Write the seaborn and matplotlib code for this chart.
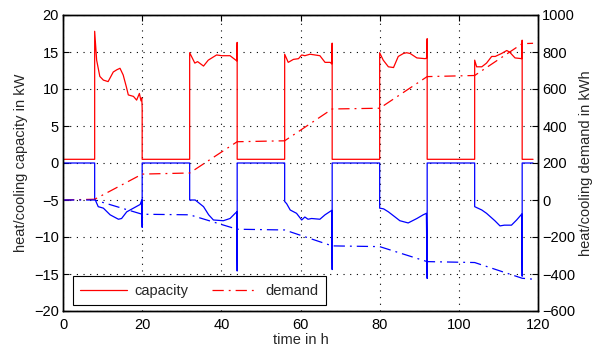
import matplotlib
matplotlib.use("Agg")
import matplotlib.pyplot as plt
from matplotlib.lines import Line2D
import seaborn as sns

# Heating capacity in kW (time in h)
heat_time = [0, 8, 8, 8.5, 9.3, 10.2, 11.4, 12.0, 12.7, 13.6, 14.4, 15.2, 16.0, 16.5, 17.8, 18.6, 19.3, 19.7, 19.9, 20, 20,
             32, 32, 33.3, 34.0, 35.5, 36.7, 38.8, 40.1, 42.2, 43.9, 44, 44,
             56, 56, 56.9, 58.2, 59.5, 60.3, 61.1, 62.4, 64.9, 66.2, 67.5, 67.9, 68, 68,
             80, 80, 80.9, 82.2, 83.5, 84.7, 86.0, 86.8, 87.7, 89.4, 91.5, 91.9, 92, 92,
             104, 104, 104.5, 105.8, 107.0, 108.3, 109.2, 110.8, 112.1, 112.8, 114.2, 115.9, 116, 116, 118.75]
heat_kw = [0.5, 0.5, 17.8, 13.9, 11.7, 11.2, 11.0, 11.6, 12.3, 12.6, 12.8, 11.9, 10.3, 9.2, 9.0, 8.5, 9.4, 8.4, 8.8, 7.4, 0.5,
           0.5, 14.9, 13.5, 13.7, 13.1, 13.9, 14.6, 14.5, 14.5, 13.8, 16.3, 0.5,
           0.5, 14.7, 13.6, 14.0, 14.1, 14.6, 14.5, 14.7, 14.5, 13.6, 13.6, 13.4, 16.2, 0.5,
           0.5, 14.9, 13.9, 13.0, 12.9, 14.4, 14.8, 14.9, 14.8, 14.2, 14.1, 14.2, 16.8, 0.5,
           0.5, 13.9, 13.0, 13.0, 13.5, 14.4, 14.4, 14.8, 15.2, 15.0, 14.2, 14.1, 16.6, 0.5, 0.5]

# Cooling capacity in kW (time in h)
cool_time = [0, 8, 8, 8.9, 10.2, 11.9, 14.0, 14.8, 16.1, 17.8, 19.5, 19.9, 20, 20,
             32, 32, 33.4, 35.5, 36.8, 38.0, 40.5, 42.2, 43.5, 43.9, 44, 44,
             56, 56, 56.5, 57.4, 59.0, 60.3, 61.1, 61.9, 62.8, 64.9, 66.2, 67.9, 68, 68,
             80, 80, 81.0, 82.2, 83.9, 85.1, 87.2, 89.4, 91.0, 91.8, 92, 92,
             104, 104, 105.8, 107.0, 109.1, 110.4, 111.5, 113.3, 114.6, 115.9, 116, 116, 118.75]
cool_kw = [0, 0, -4.8, -5.9, -6.1, -7.0, -7.6, -7.5, -6.6, -6.1, -5.6, -5.0, -8.7, 0,
           0, -5.0, -5.0, -5.9, -7.0, -7.7, -7.8, -7.5, -6.8, -6.6, -14.6, 0,
           0, -5.2, -5.5, -6.35, -6.8, -7.7, -7.3, -7.6, -7.5, -7.6, -7.0, -6.4, -14.4, 0,
           0, -6.1, -6.2, -6.6, -7.3, -7.8, -8.1, -7.5, -7.0, -6.8, -15.6, 0,
           0, -5.9, -6.35, -6.8, -7.8, -8.5, -8.4, -8.4, -7.7, -6.9, -15.3, 0, 0]

# Cumulative demand in kWh
demand_time = [0, 8, 20, 32, 44, 56, 68, 80, 92, 104, 116, 118.75]
heat_demand = [0, 4, 140, 146, 315, 320, 492, 496, 667, 673, 845, 847]
cool_demand = [0, 0, -77, -80, -158, -162, -248, -252, -333, -338, -423, -428]

x_ticks = [0, 20, 40, 60, 80, 100, 120]
left_ticks = [-20, -15, -10, -5, 0, 5, 10, 15, 20]
right_ticks = [-600, -400, -200, 0, 200, 400, 600, 800, 1000]

sns.set_style("white")
plt.rcParams["font.family"] = ["Liberation Sans", "DejaVu Sans"]
plt.rcParams["font.size"] = 10

W, H = 595, 351
fig, ax = plt.subplots(figsize=(W / 100, H / 100), dpi=100)
fig.subplots_adjust(left=63 / W, right=538 / W, bottom=(H - 311) / H, top=(H - 15) / H)
ax2 = ax.twinx()

lw = 0.9
dashdot = (0, (9, 4, 1.5, 4))

sns.lineplot(x=heat_time, y=heat_kw, ax=ax, color="red", linewidth=lw, sort=False, estimator=None)
sns.lineplot(x=cool_time, y=cool_kw, ax=ax, color="blue", linewidth=lw, sort=False, estimator=None)
sns.lineplot(x=demand_time, y=heat_demand, ax=ax2, color="red", linewidth=lw, sort=False, estimator=None,
             linestyle=dashdot)
sns.lineplot(x=demand_time, y=cool_demand, ax=ax2, color="blue", linewidth=lw, sort=False, estimator=None,
             linestyle=dashdot)

ax.set_xlim(0, 120)
ax.set_ylim(-20, 20)
ax2.set_ylim(-600, 1000)
ax.set_xticks(x_ticks)
ax.set_yticks(left_ticks)
ax2.set_yticks(right_ticks)
ax.set_yticklabels([str(v).replace("-", "\u2212") for v in left_ticks])
ax2.set_yticklabels([str(v).replace("-", "\u2212") for v in right_ticks])

ax.grid(True, color="black", linestyle=(0, (1, 5)), linewidth=0.8)
ax.set_axisbelow(True)

for a in (ax, ax2):
    for s in a.spines.values():
        s.set_color("black")
        s.set_linewidth(1.0)
ax.tick_params(axis="y", direction="in", length=4, width=0.8, colors="black", labelsize=10.5,
               right=False, pad=3)
ax.tick_params(axis="x", direction="in", length=4, width=0.8, colors="black", labelsize=10.5,
               top=True, pad=5)
ax2.tick_params(axis="y", direction="in", length=4, width=0.8, colors="black", labelsize=10.5, pad=3)

ax.set_xlabel("time in h", fontsize=10.5, labelpad=1)
ax.set_ylabel("heat/cooling capacity in kW", fontsize=10.5, labelpad=4)
ax2.set_ylabel("heat/cooling demand in kWh", fontsize=10.5, labelpad=3)

handles = [Line2D([], [], color="red", linewidth=lw),
           Line2D([], [], color="red", linewidth=lw, linestyle=dashdot)]
leg = ax2.legend(handles, ["capacity", "demand"], ncol=2, loc="lower left",
                 bbox_to_anchor=(0.021, 0.02), borderaxespad=0, frameon=True, fancybox=False,
                 edgecolor="black", framealpha=1, handlelength=3.2, columnspacing=1.6,
                 handletextpad=0.5, fontsize=10.5, borderpad=0.5)
leg.get_frame().set_linewidth(0.8)

fig.savefig("out.png", dpi=100)
